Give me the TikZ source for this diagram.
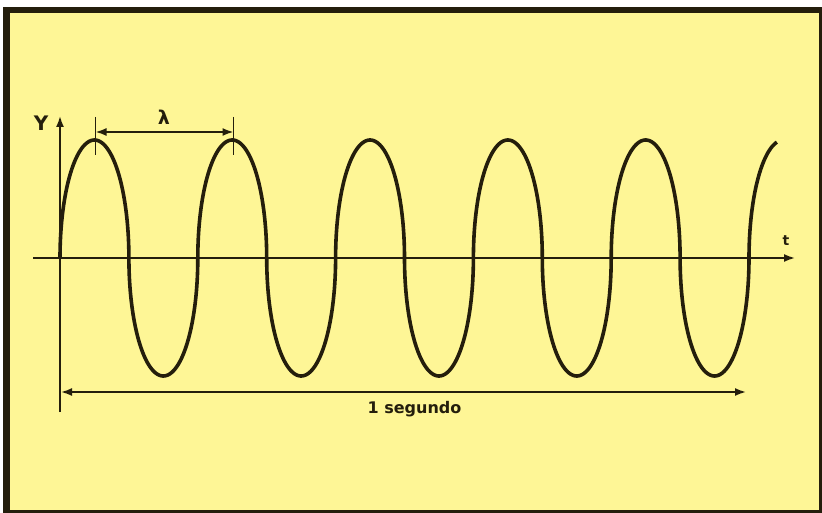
\documentclass[tikz,border=0pt]{standalone}
\usepackage{fontspec}
\setsansfont{DejaVu Sans}
\usetikzlibrary{arrows.meta}
\definecolor{paper}{RGB}{254,246,150}
\definecolor{ink}{RGB}{36,30,12}

\begin{document}
\begin{tikzpicture}[
    x=1pt, y=-1pt,
    font=\sffamily\bfseries,
    axis/.style={draw=ink, line width=1.8pt},
    wave/.style={draw=ink, line width=3.6pt, line join=round},
    tip/.style={-{Latex[length=11pt, width=8pt]}},
    span/.style={{Latex[length=11pt, width=8pt]}-{Latex[length=11pt, width=8pt]}},
    lbl/.style={text=ink, inner sep=0pt, anchor=base},
]

% ---- Frame ----
\useasboundingbox (0,0) rectangle (822,513);
\fill[white] (0,0) rectangle (822,513);
\fill[ink] (3,7) rectangle (822,513);
\fill[paper] (10,13) rectangle (819,510);

% ---- Axes ----
\coordinate (ybot) at (60,412);
\coordinate (ytop) at (60,116);
\coordinate (tleft) at (33,258);
\coordinate (tright) at (795,258);
\draw[axis, tip] (ybot) -- (ytop);
\draw[axis, tip] (tleft) -- (tright);

% ---- Wave: half-ellipses, half period 68.9 ----
\draw[wave, variable=\t, domain=0:1879, samples=940]
    plot ({60 + 68.9*floor(\t/180) + 34.45*(1 - cos(\t - 180*floor(\t/180)))},
          {258 - 118*sin(\t)});

% ---- Wavelength ----
\coordinate (p1top) at (95.5,117);
\coordinate (p1bot) at (95.5,155);
\coordinate (p2top) at (233.5,117);
\coordinate (p2bot) at (233.5,155);
\coordinate (p1mid) at (95.5,132);
\coordinate (p2mid) at (233.5,132);
\draw[axis] (p1top) -- (p1bot);
\draw[axis] (p2top) -- (p2bot);
\draw[axis, span] (p1mid) -- (p2mid);

% ---- One second ----
\coordinate (s0) at (61,392);
\coordinate (s1) at (746,392);
\draw[axis, span] (s0) -- (s1);

% ---- Labels ----
\node[lbl, font=\sffamily\bfseries\fontsize{20}{20}\selectfont] (ylab) at (41,131) {Y};
\node[lbl, font=\sffamily\bfseries\fontsize{19}{19}\selectfont] (lam) at (164,125) {λ};
\node[lbl, font=\sffamily\bfseries\fontsize{14}{14}\selectfont] (tlab) at (786,246) {t};
\node[lbl, font=\sffamily\bfseries\fontsize{16}{16}\selectfont] (sec) at (414.5,413) {1 segundo};

\end{tikzpicture}
\end{document}
